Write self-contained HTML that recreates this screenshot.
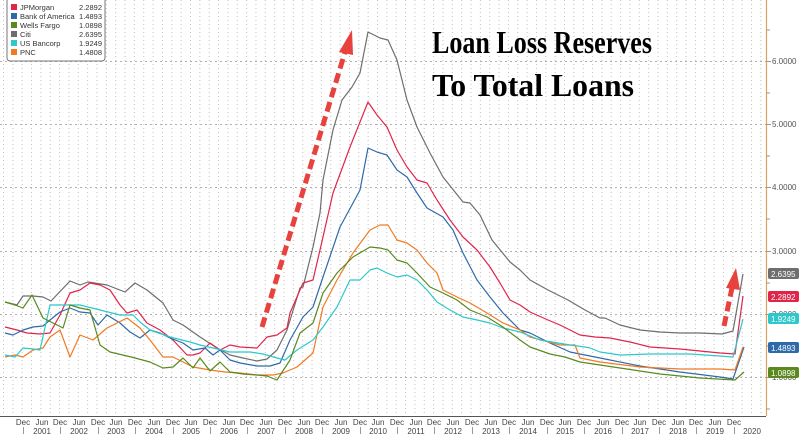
<!DOCTYPE html>
<html><head><meta charset="utf-8"><style>
html,body{margin:0;padding:0;background:#fff;}
svg{display:block;font-family:"Liberation Sans",sans-serif;}
</style></head><body>
<svg width="800" height="434" viewBox="0 0 800 434" xmlns="http://www.w3.org/2000/svg">
<defs>
<pattern id="vg" x="3" y="0" width="9.35" height="434" patternUnits="userSpaceOnUse">
<line x1="0.5" y1="0" x2="0.5" y2="434" stroke="#c0c0c0" stroke-width="1" stroke-dasharray="1,3"/>
</pattern>
</defs>
<rect x="0" y="0" width="766" height="416" fill="url(#vg)"/>
<g stroke="#b0b0b0" stroke-width="1" stroke-dasharray="2,3">
<line x1="0" y1="61.5" x2="766" y2="61.5"/>
<line x1="0" y1="124.5" x2="766" y2="124.5"/>
<line x1="0" y1="187.5" x2="766" y2="187.5"/>
<line x1="0" y1="251.5" x2="766" y2="251.5"/>
<line x1="0" y1="314.5" x2="766" y2="314.5"/>
<line x1="0" y1="377.5" x2="766" y2="377.5"/>
</g>
<line x1="766.5" y1="0" x2="766.5" y2="416" stroke="#e0a060" stroke-width="1.2"/>
<line x1="0" y1="416.5" x2="766" y2="416.5" stroke="#555" stroke-width="1"/>
<g stroke="#999" stroke-width="1">
<line x1="766" y1="30" x2="770" y2="30"/><line x1="766" y1="61.5" x2="771" y2="61.5"/>
<line x1="766" y1="93" x2="770" y2="93"/><line x1="766" y1="124.5" x2="771" y2="124.5"/>
<line x1="766" y1="156" x2="770" y2="156"/><line x1="766" y1="187.5" x2="771" y2="187.5"/>
<line x1="766" y1="219" x2="770" y2="219"/><line x1="766" y1="251.5" x2="771" y2="251.5"/>
<line x1="766" y1="283" x2="770" y2="283"/><line x1="766" y1="314.5" x2="771" y2="314.5"/>
<line x1="766" y1="346" x2="770" y2="346"/><line x1="766" y1="377.5" x2="771" y2="377.5"/>
<line x1="766" y1="409" x2="770" y2="409"/>
</g>
<g font-size="8" fill="#555">
<text x="772" y="64">6.0000</text>
<text x="772" y="127">5.0000</text>
<text x="772" y="190">4.0000</text>
<text x="772" y="254">3.0000</text>
<text x="772" y="317">2.0000</text>
<text x="772" y="380">1.0000</text>
</g>
<g fill="none" stroke-width="1.2" stroke-linejoin="round">
<polyline stroke="#6e6e6e" points="5,302 17,305 23,296 33,296 43,297 51,301 70,281 80,285 88,282 107,285 125,292 135,283 147,290 163,303 173,320 183,325 200,337 217,348 230,355 243,358 257,361 267,359 277,350 287,330 300,288 303,287 313,247 320,213 323,180 333,130 342,100 352,87 360,73 368,32 380,38 388,40 397,60 407,100 417,127 430,153 443,177 463,202 470,203 480,215 492,240 510,262 520,270 530,280 548,290 568,300 585,310 600,318 605,318 620,325 640,330 660,332 680,333 700,333 722,334 733,331 743,274"/>
<polyline stroke="#e0254a" points="5,327 17,330 27,333 40,334 50,333 60,315 70,293 80,290 90,283 100,285 110,290 120,305 127,313 137,310 147,323 160,330 173,340 187,355 193,355 200,353 210,343 220,350 230,345 240,347 257,348 267,337 277,335 287,328 290,313 303,283 313,280 323,237 333,193 350,147 368,102 377,115 387,127 397,150 407,167 417,180 427,183 437,200 450,220 463,237 477,250 490,267 500,283 510,300 520,305 530,312 548,320 560,325 580,335 595,337 610,338 630,342 650,347 680,349 700,351 720,353 735,354 743,296"/>
<polyline stroke="#2e6aa8" points="5,333 13,335 23,330 33,327 43,326 50,320 60,312 70,308 80,312 90,313 98,325 107,315 120,323 130,332 140,338 150,330 160,333 170,338 183,343 193,350 205,348 213,355 220,350 230,360 240,363 257,366 270,366 280,363 290,340 303,317 313,307 323,277 340,227 353,203 360,190 368,148 377,152 387,155 397,170 407,177 417,193 427,208 443,217 453,230 463,253 477,280 490,297 503,313 520,330 530,333 550,343 570,352 600,358 640,366 680,372 720,377 733,379 744,347"/>
<polyline stroke="#f07a22" points="5,357 15,355 23,357 33,350 43,348 50,337 60,330 70,357 80,335 93,340 107,328 117,323 127,318 140,328 150,340 163,357 173,357 183,362 193,367 210,370 225,372 240,373 257,375 273,375 283,373 297,367 313,353 323,307 337,280 353,253 370,230 380,225 388,225 397,240 407,243 417,250 427,263 437,273 443,290 457,297 470,303 487,313 503,323 520,330 530,337 560,345 575,345 580,358 600,362 640,367 680,369 720,369 735,370 743,347"/>
<polyline stroke="#2cc8cc" points="5,355 15,357 23,348 33,349 40,350 50,305 60,305 80,305 100,310 120,315 133,315 140,322 150,330 170,337 190,342 200,345 213,348 230,352 250,352 263,354 277,358 285,360 297,350 313,340 323,327 337,307 350,280 360,280 370,270 377,268 387,273 397,277 407,275 417,280 427,290 437,302 450,310 463,317 477,320 490,323 503,328 520,332 540,340 570,345 585,347 590,348 600,352 620,355 650,354 690,354 720,356 733,357 743,319"/>
<polyline stroke="#5a8a1e" points="5,302 15,305 23,308 32,295 43,318 53,323 63,328 70,305 80,308 90,310 100,345 110,352 127,356 135,358 150,362 163,368 173,367 183,358 193,368 200,358 210,371 220,362 230,372 243,374 257,375 267,376 277,380 290,360 300,333 313,323 323,293 337,273 353,257 370,247 380,248 388,250 397,260 407,263 417,273 430,287 443,293 457,300 470,310 487,317 503,327 520,340 530,347 550,354 565,357 580,362 620,368 660,374 700,378 735,380 744,372"/>
</g>
<g stroke="#e8423f" stroke-width="5" fill="none" stroke-dasharray="10,5">
<line x1="262" y1="327" x2="345" y2="52"/>
<line x1="724" y1="326" x2="732" y2="288"/>
</g>
<polygon points="352,30 339,52 353,55" fill="#e8423f"/>
<polygon points="736,268 726,288 740,290" fill="#e8423f"/>
<g font-family="Liberation Serif, serif" font-weight="bold" font-size="32" fill="#000">
<text x="432" y="53" textLength="220" lengthAdjust="spacingAndGlyphs">Loan Loss Reserves</text>
<text x="432" y="96" textLength="202" lengthAdjust="spacingAndGlyphs">To Total Loans</text>
</g>
<rect x="7" y="-3" width="98" height="64" rx="3" fill="#fff" stroke="#777" stroke-width="1"/>
<g font-size="7.5" fill="#333">
<rect x="11" y="4" width="6" height="6" fill="#e0254a"/><text x="20" y="10">JPMorgan</text><text x="102" y="10" text-anchor="end">2.2892</text>
<rect x="11" y="13" width="6" height="6" fill="#2e6aa8"/><text x="20" y="19">Bank of America</text><text x="102" y="19" text-anchor="end">1.4893</text>
<rect x="11" y="22" width="6" height="6" fill="#5a8a1e"/><text x="20" y="28">Wells Fargo</text><text x="102" y="28" text-anchor="end">1.0898</text>
<rect x="11" y="31" width="6" height="6" fill="#6e6e6e"/><text x="20" y="37">Citi</text><text x="102" y="37" text-anchor="end">2.6395</text>
<rect x="11" y="40" width="6" height="6" fill="#2cc8cc"/><text x="20" y="46">US Bancorp</text><text x="102" y="46" text-anchor="end">1.9249</text>
<rect x="11" y="49" width="6" height="6" fill="#f07a22"/><text x="20" y="55">PNC</text><text x="102" y="55" text-anchor="end">1.4808</text>
</g>
<g font-size="8" fill="#fff">
<rect x="768" y="268" width="31" height="11" rx="2" fill="#6e6e6e"/><text x="771" y="277">2.6395</text>
<rect x="768" y="291" width="31" height="11" rx="2" fill="#e0254a"/><text x="771" y="300">2.2892</text>
<rect x="768" y="313" width="31" height="11" rx="2" fill="#2cc8cc"/><text x="771" y="322">1.9249</text>
<rect x="768" y="342" width="31" height="11" rx="2" fill="#2e6aa8"/><text x="771" y="351">1.4893</text>
<rect x="768" y="367" width="31" height="11" rx="2" fill="#5a8a1e"/><text x="771" y="376">1.0898</text>
</g>
<g font-size="8" fill="#444" text-anchor="middle">
<text x="23" y="425">Dec</text><text x="42" y="425">Jun</text><text x="60" y="425">Dec</text><text x="79" y="425">Jun</text><text x="98" y="425">Dec</text><text x="116" y="425">Jun</text><text x="135" y="425">Dec</text><text x="154" y="425">Jun</text><text x="173" y="425">Dec</text><text x="191" y="425">Jun</text><text x="210" y="425">Dec</text><text x="229" y="425">Jun</text><text x="247" y="425">Dec</text><text x="266" y="425">Jun</text><text x="285" y="425">Dec</text><text x="304" y="425">Jun</text><text x="322" y="425">Dec</text><text x="341" y="425">Jun</text><text x="360" y="425">Dec</text><text x="378" y="425">Jun</text><text x="397" y="425">Dec</text><text x="416" y="425">Jun</text><text x="434" y="425">Dec</text><text x="453" y="425">Jun</text><text x="472" y="425">Dec</text><text x="491" y="425">Jun</text><text x="509" y="425">Dec</text><text x="528" y="425">Jun</text><text x="547" y="425">Dec</text><text x="565" y="425">Jun</text><text x="584" y="425">Dec</text><text x="603" y="425">Jun</text><text x="622" y="425">Dec</text><text x="640" y="425">Jun</text><text x="659" y="425">Dec</text><text x="678" y="425">Jun</text><text x="696" y="425">Dec</text><text x="715" y="425">Jun</text><text x="734" y="425">Dec</text>
<text x="42" y="434">2001</text><text x="79" y="434">2002</text><text x="116" y="434">2003</text><text x="154" y="434">2004</text><text x="191" y="434">2005</text><text x="229" y="434">2006</text><text x="266" y="434">2007</text><text x="304" y="434">2008</text><text x="341" y="434">2009</text><text x="378" y="434">2010</text><text x="416" y="434">2011</text><text x="453" y="434">2012</text><text x="491" y="434">2013</text><text x="528" y="434">2014</text><text x="565" y="434">2015</text><text x="603" y="434">2016</text><text x="640" y="434">2017</text><text x="678" y="434">2018</text><text x="715" y="434">2019</text><text x="752" y="434">2020</text>
</g>
<g stroke="#999" stroke-width="1">
<line x1="23.5" y1="427" x2="23.5" y2="434"/><line x1="60.5" y1="427" x2="60.5" y2="434"/><line x1="98.5" y1="427" x2="98.5" y2="434"/><line x1="135.5" y1="427" x2="135.5" y2="434"/><line x1="173.5" y1="427" x2="173.5" y2="434"/><line x1="210.5" y1="427" x2="210.5" y2="434"/><line x1="247.5" y1="427" x2="247.5" y2="434"/><line x1="285.5" y1="427" x2="285.5" y2="434"/><line x1="322.5" y1="427" x2="322.5" y2="434"/><line x1="360.5" y1="427" x2="360.5" y2="434"/><line x1="397.5" y1="427" x2="397.5" y2="434"/><line x1="434.5" y1="427" x2="434.5" y2="434"/><line x1="472.5" y1="427" x2="472.5" y2="434"/><line x1="509.5" y1="427" x2="509.5" y2="434"/><line x1="547.5" y1="427" x2="547.5" y2="434"/><line x1="584.5" y1="427" x2="584.5" y2="434"/><line x1="622.5" y1="427" x2="622.5" y2="434"/><line x1="659.5" y1="427" x2="659.5" y2="434"/><line x1="696.5" y1="427" x2="696.5" y2="434"/><line x1="734.5" y1="427" x2="734.5" y2="434"/>
</g>
</svg>
</body></html>
